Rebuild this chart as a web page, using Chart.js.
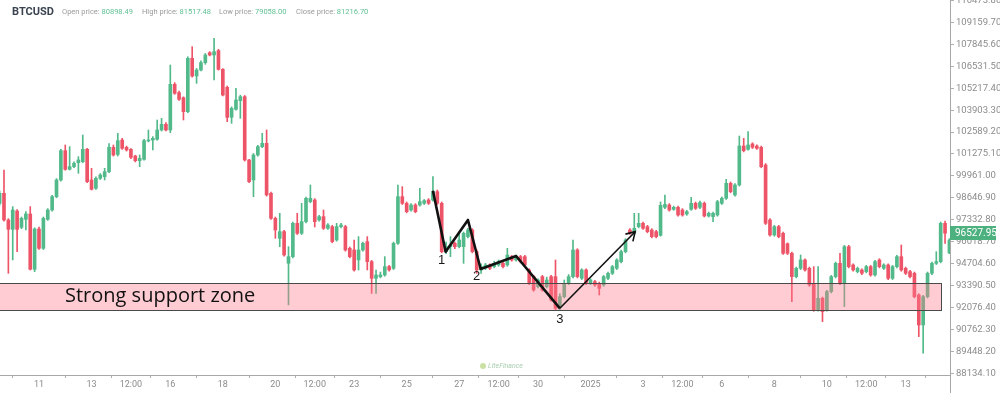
<!DOCTYPE html>
<html>
<head>
<meta charset="utf-8">
<title>BTCUSD</title>
<script src="https://cdn.jsdelivr.net/npm/chart.js@4.4.1/dist/chart.umd.min.js"></script>
<style>
  html, body { margin: 0; padding: 0; background: #fff; }
  canvas { display: block; }
</style>
</head>
<body>
<canvas id="chart" width="1000" height="393"></canvas>
<script>
// BTCUSD, 4h candles, first one opens 9 Dec 2024 12:00 UTC
const startTime = Date.UTC(2024, 11, 9, 12);
const candleHours = 4;

const opens = [
  98320, 98919, 97321, 96762, 97860, 96881, 97360, 97680, 94365, 96782,
  95624, 97360, 97920, 98719, 99718, 101475, 100356, 100516, 100756, 100816,
  101555, 99718, 99218, 99817, 99917, 100216, 101675, 101250, 102114, 101675,
  101555, 101155, 100876, 100955, 102054, 102114, 102154, 102713, 103052, 102713,
  105449, 104950, 104650, 103811, 107007, 105948, 106308, 106747, 107346, 107206,
  107466, 106347, 105269, 103472, 103951, 104470, 104710, 100916, 99718, 101215,
  101715, 101914, 98919, 97421, 96223, 96622, 94725, 95124, 97121, 96522,
  97221, 98420, 98519, 97321, 97521, 96822, 96922, 96123, 96922, 96922,
  95624, 95524, 94925, 95524, 96023, 94825, 93826, 93926, 94026, 94525,
  94425, 95923, 98719, 98320, 97920, 98220, 98220, 98320, 98519, 98519,
  99018, 98319, 95423, 95723, 95923, 95723, 95723, 96322, 96721, 95423,
  94325, 94425, 94625, 94525, 94625, 94724, 94625, 95124, 94924, 95124,
  95124, 94325, 93926, 93326, 93926, 93326, 93926, 93926, 92128, 92727,
  93526, 93926, 95523, 93826, 94325, 93526, 93626, 93526, 93426, 93826,
  94125, 94425, 94824, 95423, 96721, 96522, 96921, 97121, 96921, 96721,
  96621, 96400, 98080, 98220, 97960, 98080, 97920, 97680, 97960, 98320,
  98080, 98320, 97561, 97521, 97620, 98320, 98619, 99518, 98819, 99418,
  101754, 101555, 101874, 101754, 101674, 100616, 97321, 96422, 96922, 96522,
  95900, 95324, 93926, 94425, 94925, 94425, 93527, 91929, 92628, 91929,
  93028, 93926, 94725, 93527, 95723, 94625, 94226, 94326, 94226, 94525,
  94026, 94925, 94425, 94625, 93826, 94525, 95124, 94425, 94226, 94126,
  92828, 91030, 92728, 94126, 94725, 94825, 97121, 95342
];
const highs = [
  99050, 100316, 97400, 98120, 97950, 97500, 97820, 98120, 96850, 96900,
  97500, 98000, 98800, 99800, 101550, 101814, 101715, 100800, 101115, 102413,
  101620, 100416, 99900, 100100, 100416, 101900, 101814, 102513, 102214, 101750,
  101600, 101200, 101215, 102150, 102713, 102314, 103312, 103412, 103150, 106607,
  105550, 105050, 104700, 107100, 107706, 106400, 106850, 107300, 107406, 108205,
  107550, 106400, 105350, 104100, 105209, 104800, 104780, 100950, 101300, 101800,
  102513, 102713, 99000, 97500, 97720, 96700, 95723, 97200, 97720, 98320,
  98700, 99418, 98600, 97600, 97920, 97100, 97000, 97121, 97121, 97000,
  95700, 96123, 96323, 96000, 96323, 94900, 94326, 94200, 95124, 94600,
  96000, 99418, 99318, 98400, 98300, 98300, 99218, 98550, 98600, 99917,
  99118, 98400, 96000, 96322, 96000, 96522, 96600, 96821, 96800, 95523,
  94700, 94724, 94700, 94850, 94924, 94800, 95623, 95200, 95223, 95200,
  95200, 94400, 94000, 93800, 94000, 93900, 94000, 94924, 92900, 93726,
  94050, 96122, 95600, 94400, 94400, 93800, 93700, 93600, 94000, 94200,
  94600, 95000, 95523, 96200, 96800, 97720, 97720, 97200, 97000, 96800,
  96700, 98400, 98819, 98300, 98150, 98150, 98000, 97900, 98679, 98400,
  98450, 98400, 97800, 97800, 98500, 98700, 99757, 99600, 99500, 102353,
  102214, 102613, 101950, 101830, 101750, 100700, 97400, 97000, 97000, 96600,
  95950, 95400, 94500, 95224, 95000, 94500, 94525, 94525, 92700, 93100,
  94000, 94800, 95324, 95800, 95800, 94700, 94500, 94400, 94600, 94600,
  94900, 95000, 94700, 94700, 94600, 95200, 95823, 94500, 94300, 94200,
  92900, 92800, 94200, 94800, 95424, 97200, 97250, 96200
];
const lows = [
  98200, 97250, 94125, 94925, 95424, 96800, 96722, 94325, 94225, 95550,
  95550, 97300, 97850, 98650, 99650, 100300, 100316, 100450, 100117, 100750,
  99550, 99118, 99150, 99750, 99718, 100150, 101150, 101150, 101550, 101450,
  101000, 100800, 100516, 100900, 102000, 101515, 102100, 102650, 102650, 102553,
  104850, 104480, 103312, 103750, 105880, 105509, 106250, 106650, 107150, 105708,
  106300, 104750, 103212, 103112, 103900, 103412, 100850, 99550, 98719, 101150,
  101650, 98750, 97350, 96223, 95723, 95150, 92229, 95050, 96450, 96450,
  97150, 98350, 96900, 97250, 96750, 96750, 95950, 96050, 96850, 95450,
  95050, 94250, 94326, 95450, 94326, 92927, 92927, 93850, 93950, 94250,
  94350, 95850, 98250, 97750, 97850, 97750, 98150, 98250, 98250, 98450,
  98250, 95350, 95300, 95124, 95600, 95650, 94724, 96250, 95350, 94125,
  94125, 94350, 94350, 94450, 94550, 94450, 94550, 94850, 94850, 94750,
  94550, 93450, 93050, 93250, 93050, 93250, 92450, 91950, 91950, 92650,
  93450, 93850, 93850, 93750, 93450, 93450, 93350, 92827, 93350, 93750,
  94050, 94350, 94750, 95350, 96450, 96450, 96850, 96750, 96550, 96250,
  96250, 96350, 98000, 97850, 97900, 97550, 97550, 97600, 97900, 97950,
  98000, 97500, 97500, 97221, 97550, 98250, 98550, 98950, 98750, 99350,
  101400, 101500, 101600, 101550, 100450, 97050, 96350, 96350, 96250, 95250,
  95250, 92428, 93850, 94350, 94250, 93350, 91850, 91850, 91230, 91850,
  92950, 93850, 93450, 92129, 94450, 94250, 94150, 94050, 94150, 93950,
  93950, 94450, 94350, 93750, 93750, 94450, 94250, 94050, 93850, 92650,
  90331, 89333, 92650, 94050, 94650, 94750, 95922, 95300
];
const closes = [
  98919, 97321, 96762, 97920, 96762, 97420, 97680, 94365, 96782, 95624,
  97420, 97920, 98719, 99718, 101475, 100356, 100516, 100716, 100916, 101555,
  99618, 99158, 99817, 100017, 100216, 101675, 101215, 102074, 101615, 101515,
  101075, 100876, 101015, 102074, 102114, 102214, 102713, 103052, 102713, 105449,
  104910, 104550, 103811, 107007, 105948, 106308, 106747, 107206, 107206, 107406,
  106347, 104810, 103472, 104011, 104510, 104710, 100916, 99618, 101215, 101715,
  101914, 98819, 97421, 96722, 96622, 95224, 95124, 97121, 96522, 97221,
  98619, 98619, 97221, 97521, 96822, 97021, 96023, 96922, 97021, 95524,
  95124, 94326, 95524, 95923, 94825, 93826, 94026, 94026, 94525, 94326,
  95923, 98719, 98320, 97820, 98220, 97820, 98420, 98480, 98320, 99018,
  98319, 95423, 95723, 95823, 95723, 96122, 96522, 96721, 95423, 94325,
  94525, 94625, 94425, 94724, 94824, 94525, 95223, 94924, 95124, 94824,
  94625, 93526, 93127, 93726, 93127, 93726, 92528, 92028, 92727, 93526,
  93926, 95523, 93926, 94325, 93526, 93726, 93426, 93227, 93926, 94125,
  94525, 94924, 95423, 96122, 96522, 96821, 97121, 96821, 96621, 96322,
  96322, 98200, 98250, 97920, 98080, 97620, 97620, 97820, 98320, 98020,
  98360, 97561, 97720, 97720, 98419, 98619, 99518, 99018, 99418, 101754,
  101475, 101814, 101674, 101615, 100516, 97121, 96422, 96922, 96322, 95324,
  95324, 93926, 94425, 94925, 94326, 93427, 91929, 92628, 91829, 93028,
  93926, 94725, 93527, 95723, 94525, 94326, 94425, 94126, 94525, 94026,
  94825, 94525, 94625, 93826, 94525, 95124, 94326, 94126, 93926, 92728,
  91030, 92728, 94126, 94725, 94825, 97121, 96527.95, 96121
];

const xTickTimes = [
  '2024-12-11T00:00:00Z', '2024-12-13T00:00:00Z', '2024-12-14T12:00:00Z', '2024-12-16T00:00:00Z',
  '2024-12-18T00:00:00Z', '2024-12-20T00:00:00Z', '2024-12-21T12:00:00Z', '2024-12-23T00:00:00Z',
  '2024-12-25T00:00:00Z', '2024-12-27T00:00:00Z', '2024-12-28T12:00:00Z', '2024-12-30T00:00:00Z',
  '2025-01-01T00:00:00Z', '2025-01-03T00:00:00Z', '2025-01-04T12:00:00Z', '2025-01-06T00:00:00Z',
  '2025-01-08T00:00:00Z', '2025-01-10T00:00:00Z', '2025-01-11T12:00:00Z', '2025-01-13T00:00:00Z'
];
const xTickLabels = ['11', '13', '12:00', '16', '18', '20', '12:00', '23', '25', '27',
  '12:00', '30', '2025', '3', '12:00', '6', '8', '10', '12:00', '13'];
const yTicks = [
  88134.10, 89448.20, 90762.30, 92076.40, 93390.50, 94704.60, 96018.70, 97332.80, 98646.90,
  99961.00, 101275.10, 102589.20, 103903.30, 105217.40, 106531.50, 107845.60, 109159.70, 110473.80
];

const headerLabels = ['Open price:', 'High price:', 'Low price:', 'Close price:'];
const headerValues = ['80898.49', '81517.48', '79058.00', '81216.70'];
const lastPrice = 96527.95;

// support zone and the hand-drawn wave (candle index, price)
const supportZone = [91930, 93540];
const supportZoneEnd = 215;
const waveIdx = [99, 101.9, 107, 109.9, 118, 128];
const wavePrices = [99075, 95420, 97320, 94384, 95163, 92029];
const arrowIdx = [128, 145.2];
const arrowPrices = [92029, 96619];
const waveLabels = ['1', '2', '3'];
const waveLabelIdx = [101, 109, 128];
const waveLabelPrices = [94880, 93922, 91387];

const bull = '#52b98a';
const bear = '#ee5468';
const hoursToIdx = (t) => (Date.parse(t) - startTime) / (candleHours * 3600 * 1000);
const xTickValues = xTickTimes.map(hoursToIdx);
const candleColors = closes.map((c, i) => (c >= opens[i] ? bull : bear));

const overlay = {
  id: 'overlay',
  beforeDatasetsDraw(chart) {
    chart.$zoneDone = false;
  },
  beforeDatasetDraw(chart, args) {
    if (args.meta.type !== 'line' || chart.$zoneDone) return;
    chart.$zoneDone = true;
    const { ctx, chartArea, scales: { x, y } } = chart;
    const left = chartArea.left;
    const right = Math.round(x.getPixelForValue(supportZoneEnd)) + 0.5;
    const top = Math.round(y.getPixelForValue(supportZone[1])) + 0.5;
    const bottom = Math.round(y.getPixelForValue(supportZone[0])) + 0.5;
    ctx.save();
    ctx.fillStyle = 'rgba(255, 120, 140, 0.38)';
    ctx.fillRect(left, top, right - left, bottom - top);
    ctx.strokeStyle = '#4a4a4a';
    ctx.lineWidth = 1;
    ctx.strokeRect(left - 1, top, right - left + 1, bottom - top);
    ctx.restore();
  },
  afterDatasetsDraw(chart) {
    const { ctx, scales: { x, y } } = chart;
    ctx.save();
    // arrow head
    const x0 = x.getPixelForValue(arrowIdx[0]);
    const y0 = y.getPixelForValue(arrowPrices[0]);
    const x1 = x.getPixelForValue(arrowIdx[1]);
    const y1 = y.getPixelForValue(arrowPrices[1]);
    const ang = Math.atan2(y1 - y0, x1 - x0);
    ctx.strokeStyle = '#111';
    ctx.lineWidth = 1.6;
    ctx.beginPath();
    ctx.moveTo(x1 + 10 * Math.cos(ang + Math.PI - 0.55), y1 + 10 * Math.sin(ang + Math.PI - 0.55));
    ctx.lineTo(x1, y1);
    ctx.lineTo(x1 + 10 * Math.cos(ang + Math.PI + 0.55), y1 + 10 * Math.sin(ang + Math.PI + 0.55));
    ctx.stroke();

    // wave numbers
    ctx.fillStyle = '#1a1a1a';
    ctx.font = '13px "Liberation Sans", Arial, sans-serif';
    ctx.textAlign = 'center';
    ctx.textBaseline = 'middle';
    waveLabels.forEach((t, i) => {
      ctx.fillText(t, x.getPixelForValue(waveLabelIdx[i]), y.getPixelForValue(waveLabelPrices[i]));
    });

    // zone caption
    ctx.font = '20px "Open Sans", sans-serif';
    ctx.textAlign = 'left';
    ctx.fillStyle = '#111';
    const mid = (y.getPixelForValue(supportZone[0]) + y.getPixelForValue(supportZone[1])) / 2;
    ctx.fillText('Strong support zone', 65, mid);
    ctx.restore();
  },
  afterDraw(chart) {
    const { ctx, chartArea, scales: { y } } = chart;
    ctx.save();
    // header
    ctx.textBaseline = 'middle';
    ctx.textAlign = 'left';
    ctx.font = 'bold 11px Roboto, sans-serif';
    ctx.fillStyle = '#3a4350';
    ctx.fillText('BTCUSD', 12, 12);
    const hx = [62, 142, 219, 296];
    ctx.font = '7.5px Roboto, sans-serif';
    headerLabels.forEach((lab, i) => {
      ctx.fillStyle = '#9a9a9a';
      ctx.fillText(lab, hx[i], 12);
      const w = ctx.measureText(lab + ' ').width;
      ctx.fillStyle = '#62c095';
      ctx.fillText(headerValues[i], hx[i] + w, 12);
    });

    // y axis line down to the bottom edge
    ctx.strokeStyle = '#a8a8a8';
    ctx.lineWidth = 1;
    ctx.beginPath();
    ctx.moveTo(chartArea.right + 0.5, chartArea.bottom);
    ctx.lineTo(chartArea.right + 0.5, 393);
    ctx.stroke();

    // current price tag
    const py = y.getPixelForValue(lastPrice);
    ctx.fillStyle = '#4db07f';
    ctx.fillRect(chartArea.right, Math.round(py) - 7, 46, 14);
    ctx.fillStyle = '#fff';
    ctx.font = '10px Roboto, sans-serif';
    ctx.fillText(lastPrice.toFixed(2), chartArea.right + 5, py + 0.5);

    // watermark
    ctx.fillStyle = 'rgba(160, 200, 90, 0.55)';
    ctx.beginPath();
    ctx.arc(483, 366, 3, 0, Math.PI * 2);
    ctx.fill();
    ctx.font = 'italic 7px Roboto, sans-serif';
    ctx.fillStyle = 'rgba(110, 170, 120, 0.6)';
    ctx.fillText('LiteFinance', 488, 366);
    ctx.restore();
  }
};

const ctx = document.getElementById('chart').getContext('2d');
new Chart(ctx, {
  type: 'bar',
  data: {
    datasets: [
      {
        type: 'line',
        label: 'wave',
        data: waveIdx.map((v, i) => ({ x: v, y: wavePrices[i] })),
        borderColor: '#111',
        borderWidth: 2.6,
        pointRadius: 0,
        borderJoinStyle: 'round',
        order: 0,
      },
      {
        type: 'line',
        label: 'arrow',
        data: arrowIdx.map((v, i) => ({ x: v, y: arrowPrices[i] })),
        borderColor: '#111',
        borderWidth: 1.6,
        pointRadius: 0,
        order: 0,
      },
      {
        label: 'wick',
        data: highs.map((h, i) => ({ x: i, y: [lows[i], h] })),
        backgroundColor: candleColors,
        barThickness: 1,
        grouped: false,
        order: 2,
      },
      {
        label: 'body',
        data: opens.map((o, i) => ({ x: i, y: [o, closes[i]] })),
        backgroundColor: candleColors,
        barThickness: 3,
        minBarLength: 1,
        grouped: false,
        order: 1,
      },
    ],
  },
  options: {
    responsive: false,
    animation: false,
    devicePixelRatio: 1,
    events: [],
    layout: { padding: 0 },
    plugins: {
      legend: { display: false },
      tooltip: { enabled: false },
    },
    scales: {
      x: {
        type: 'linear',
        min: 0.09,
        max: 217.13,
        offset: false,
        afterBuildTicks: (s) => { s.ticks = xTickValues.map((v) => ({ value: v })); },
        afterFit: (s) => { s.height = 18; s.paddingLeft = 0; s.paddingRight = 0; },
        ticks: {
          autoSkip: false,
          maxRotation: 0,
          padding: 1,
          color: '#8c8c8c',
          font: { size: 9, family: 'Roboto, sans-serif' },
          callback: (v, i) => xTickLabels[i],
        },
        grid: { drawOnChartArea: false, tickLength: 3, color: '#b0b0b0' },
        border: { color: '#a8a8a8' },
      },
      y: {
        position: 'right',
        min: 88032,
        max: 110502,
        afterBuildTicks: (s) => { s.ticks = yTicks.map((v) => ({ value: v })); },
        afterFit: (s) => { s.width = 50; s.paddingTop = 0; s.paddingBottom = 0; },
        ticks: {
          padding: 2,
          color: '#8c8c8c',
          font: { size: 9.5, family: 'Roboto, sans-serif' },
          callback: (v) => Number(v).toFixed(2),
        },
        grid: { drawOnChartArea: false, tickLength: 4, color: '#b0b0b0' },
        border: { color: '#a8a8a8' },
      },
    },
  },
  plugins: [overlay],
});
</script>
</body>
</html>
